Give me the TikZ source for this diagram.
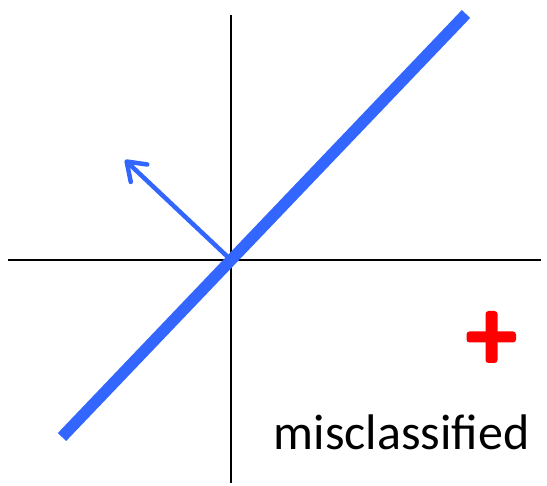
\documentclass[tikz,border=0pt]{standalone}
\usepackage{fontspec}
\setmainfont{Carlito}
\usetikzlibrary{arrows.meta}
\definecolor{lineblue}{RGB}{51,102,255}
\definecolor{plusred}{RGB}{255,0,0}
\begin{document}
\begin{tikzpicture}[x=1pt,y=-1pt,
  axis/.style={black,line width=2pt},
  boundary/.style={lineblue,line width=11.5pt},
  normalvec/.style={lineblue,line width=4.5pt,line cap=round,
    -{Straight Barb[length=17pt,width=24pt,line cap=round,line join=round]}},
  lbl/.style={inner sep=0pt,font=\fontsize{50}{60}\selectfont}]
\useasboundingbox (0,0) rectangle (547,486);
\coordinate (O) at (231,260);
\coordinate (xl) at (8,260);
\coordinate (xr) at (541,260);
\coordinate (yt) at (231,15);
\coordinate (yb) at (231,483);
\coordinate (b1) at (62,437);
\coordinate (b2) at (466,14);
\coordinate (w) at (125,160);
\draw[axis] (xl) -- (xr);
\draw[axis] (yt) -- (yb);
\draw[boundary] (b1) -- (b2);
\draw[normalvec] (O) -- (w);
\fill[plusred,rounded corners=3pt] (466.5,331.5) rectangle (516,342.5);
\fill[plusred,rounded corners=3pt] (485.5,311) rectangle (497.5,363);
\node[lbl,anchor=base west] (mis) at (273.5,450) {misclassified};
\end{tikzpicture}
\end{document}
